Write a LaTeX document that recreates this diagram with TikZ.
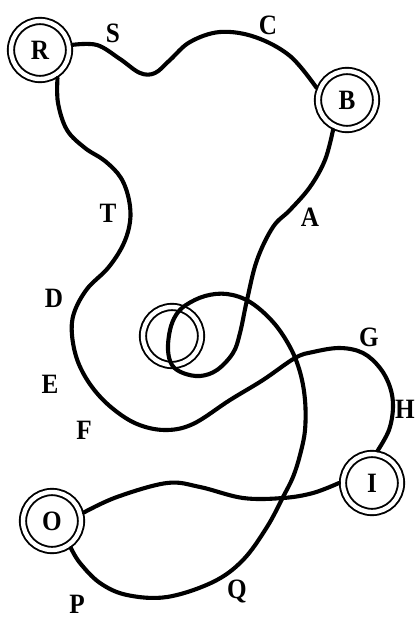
\documentclass[tikz,border=0pt]{standalone}
\usepackage{fontspec}
\usepackage{graphicx}
\setmainfont{Liberation Serif}
\newcommand{\lt}[1]{\scalebox{0.9}[1.0]{#1}}
\begin{document}
\begin{tikzpicture}[x=1pt,y=-1pt,
  st/.style={circle,draw,double,line width=1.9pt,double distance=4.4pt,minimum size=58pt,inner sep=0pt,outer sep=4pt,font=\fontsize{28}{28}\selectfont\bfseries},
  lbl/.style={font=\fontsize{28}{28}\selectfont\bfseries,inner sep=0pt},
  rd/.style={line width=4.1pt,line cap=round,line join=round}]
\useasboundingbox (0,0) rectangle (419,618);
\node[st] (R) at (40,50) {\lt{R}};
\node[st] (B) at (347,100) {\lt{B}};
\node[st] (M) at (172,336) {};
\node[st] (I) at (372,483) {\lt{I}};
\node[st] (O) at (52,521) {\lt{O}};
% R - S - C - B
\draw[rd] plot[smooth,tension=0.6] coordinates {(R.9) (97,45) (120,59) (140,73) (155,73) (170,60) (190,42) (220,32) (255,37) (290,56) (B.158)};
% R - T - D - E - F - G - H - I
\draw[rd] plot[smooth,tension=0.6] coordinates {(R.-58) (58,103) (67,130) (85,148) (105,161) (121,178) (129,200) (130,222) (123,245) (108,268) (87,289) (74,313) (72,335) (78,362) (92,387) (112,408) (137,424) (165,430) (193,424) (230,400) (263,380) (295,358) (313,352) (340,348) (363,353) (380,368) (390,387) (393,407) (389,430) (I.80)};
% B - A - loop - Q - P - O
\draw[rd] plot[smooth,tension=0.6] coordinates {(B.-115) (325,160) (310,187) (290,210) (273,227) (257,260) (247,300) (240,333) (233,353) (217,370) (200,376) (183,373) (172,365) (168,350) (170,330) (176,315) (186,305) (205,296) (227,294) (250,302) (273,322) (290,347) (300,372) (305,400) (305,430) (300,455) (293,477) (283,497) (267,527) (243,560) (213,582) (167,597) (127,595) (100,583) (80,563) (O.-55)};
% O - I
\draw[rd] plot[smooth,tension=0.6] coordinates {(O.15) (117,497) (167,483) (200,487) (243,498) (283,498) (313,493) (I.180)};
\node[lbl] (S) at (113,33) {\lt{S}};
\node[lbl] (C) at (268,25) {\lt{C}};
\node[lbl] (A) at (310,217) {\lt{A}};
\node[lbl] (T) at (108,213) {\lt{T}};
\node[lbl] (D) at (54,298) {\lt{D}};
\node[lbl] (E) at (50,384) {\lt{E}};
\node[lbl] (F) at (84,430) {\lt{F}};
\node[lbl] (G) at (369,337) {\lt{G}};
\node[lbl] (H) at (405,409) {\lt{H}};
\node[lbl] (P) at (77,604) {\lt{P}};
\node[lbl] (Q) at (237,591) {\lt{Q}};
\end{tikzpicture}
\end{document}
